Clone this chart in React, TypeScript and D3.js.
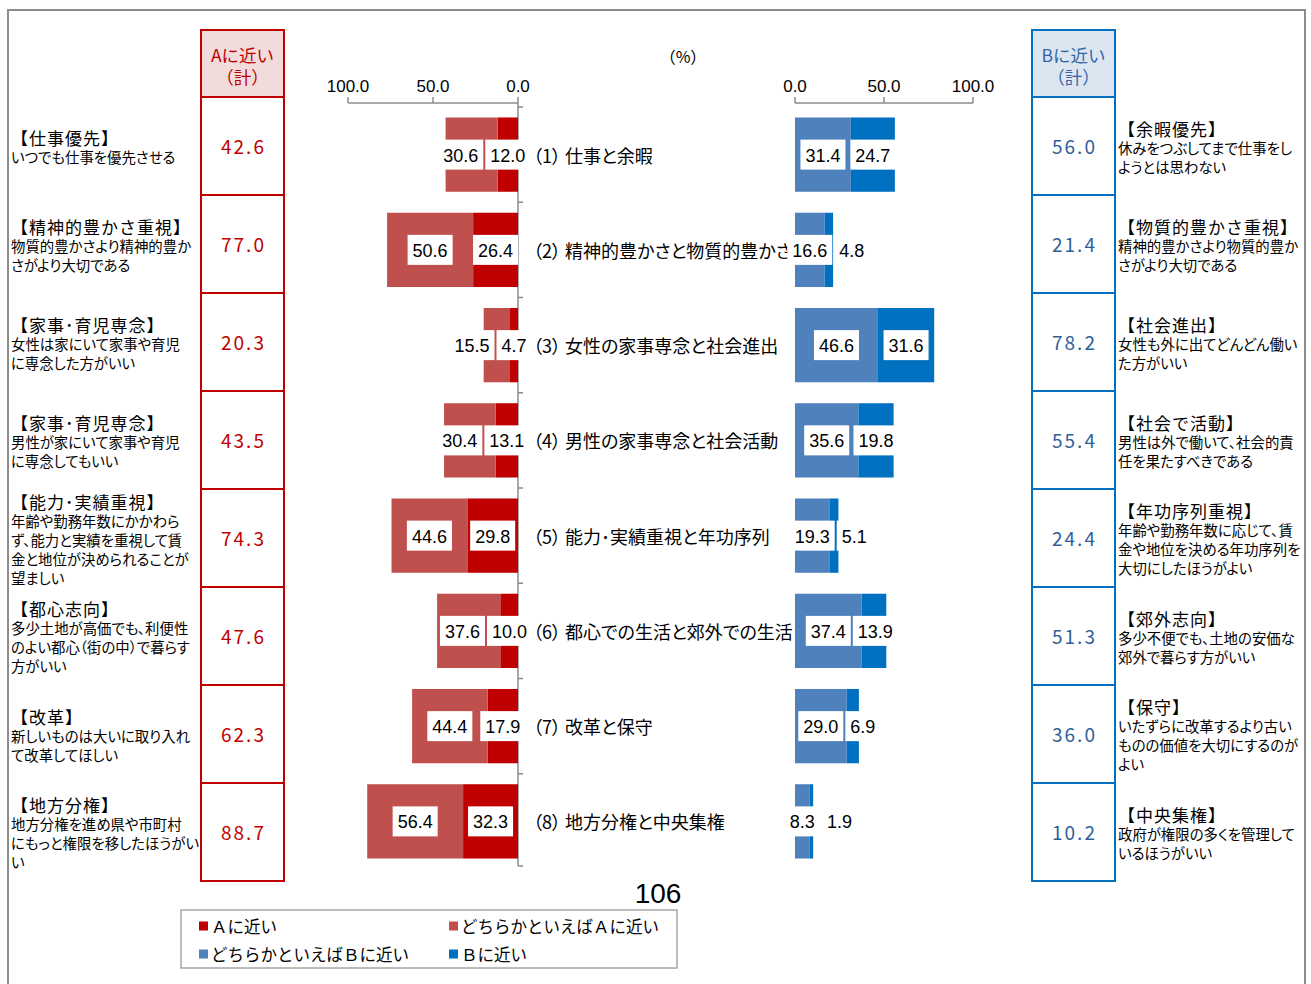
import React from "react";
import * as d3 from "d3";

// Survey items (middle labels): number part and topic part
const CATEGORY_NUMS = ["（1）", "（2）", "（3）", "（4）", "（5）", "（6）", "（7）", "（8）"];
const CATEGORY_TOPICS = [
  "仕事と余暇",
  "精神的豊かさと物質的豊かさ",
  "女性の家事専念と社会進出",
  "男性の家事専念と社会活動",
  "能力･実績重視と年功序列",
  "都心での生活と郊外での生活",
  "改革と保守",
  "地方分権と中央集権",
];
const CATEGORIES = CATEGORY_NUMS.map((n, i) => n + CATEGORY_TOPICS[i]);

// Percentages per answer
const A_CLOSE = [12.0, 26.4, 4.7, 13.1, 29.8, 10.0, 17.9, 32.3];
const A_SOMEWHAT = [30.6, 50.6, 15.5, 30.4, 44.6, 37.6, 44.4, 56.4];
const B_SOMEWHAT = [31.4, 16.6, 46.6, 35.6, 19.3, 37.4, 29.0, 8.3];
const B_CLOSE = [24.7, 4.8, 31.6, 19.8, 5.1, 13.9, 6.9, 1.9];

// Totals shown in the side tables
const A_TOTAL = [42.6, 77.0, 20.3, 43.5, 74.3, 47.6, 62.3, 88.7];
const B_TOTAL = [56.0, 21.4, 78.2, 55.4, 24.4, 51.3, 36.0, 10.2];

const AXIS_TICKS = [0, 50, 100];

const A_TITLES = [
  "【仕事優先】",
  "【精神的豊かさ重視】",
  "【家事･育児専念】",
  "【家事･育児専念】",
  "【能力･実績重視】",
  "【都心志向】",
  "【改革】",
  "【地方分権】",
];
const A_NOTES = [
  ["いつでも仕事を優先させる"],
  ["物質的豊かさより精神的豊か", "さがより大切である"],
  ["女性は家にいて家事や育児", "に専念した方がいい"],
  ["男性が家にいて家事や育児", "に専念してもいい"],
  ["年齢や勤務年数にかかわら", "ず、能力と実績を重視して賃", "金と地位が決められることが", "望ましい"],
  ["多少土地が高価でも、利便性", "のよい都心（街の中）で暮らす", "方がいい"],
  ["新しいものは大いに取り入れ", "て改革してほしい"],
  ["地方分権を進め県や市町村", "にもっと権限を移したほうがい", "い"],
];
const B_TITLES = [
  "【余暇優先】",
  "【物質的豊かさ重視】",
  "【社会進出】",
  "【社会で活動】",
  "【年功序列重視】",
  "【郊外志向】",
  "【保守】",
  "【中央集権】",
];
const B_NOTES = [
  ["休みをつぶしてまで仕事をし", "ようとは思わない"],
  ["精神的豊かさより物質的豊か", "さがより大切である"],
  ["女性も外に出てどんどん働い", "た方がいい"],
  ["男性は外で働いて、社会的責", "任を果たすべきである"],
  ["年齢や勤務年数に応じて、賃", "金や地位を決める年功序列を", "大切にしたほうがよい"],
  ["多少不便でも、土地の安価な", "郊外で暮らす方がいい"],
  ["いたずらに改革するより古い", "ものの価値を大切にするのが", "よい"],
  ["政府が権限の多くを管理して", "いるほうがいい"],
];

const LEGEND = [
  { label: "Ａに近い", color: "#C00000" },
  { label: "どちらかといえばＡに近い", color: "#C0504D" },
  { label: "どちらかといえばＢに近い", color: "#4F81BD" },
  { label: "Ｂに近い", color: "#0070C0" },
];

const JP = "'Noto Sans CJK JP', 'Noto Sans', sans-serif";
const NUM = "'Liberation Sans', Arial, sans-serif";
const LABEL_FS = 18;
const PALT = { fontFeatureSettings: '"palt"' };

const fmt = d3.format(".1f");

function textWidth(s: string) {
  let w = 0;
  for (const ch of s) w += ch === "." ? 0.278 : 0.556;
  return w * LABEL_FS;
}

type Seg = { key: string; v: number; x0: number; x1: number; color: string };
type Lab = { text: string; cx: number; w: number };

// Inner label sits on its segment; outer one is pushed away if the boxes collide
function placeLabels(segs: Seg[], dir: number): Lab[] {
  const gap = 2;
  const labs = segs.map((s) => {
    const text = fmt(s.v);
    return { text, cx: (s.x0 + s.x1) / 2, w: textWidth(text) + 10 };
  });
  const [a, b] = labs;
  if (dir < 0) b.cx = Math.min(b.cx, a.cx - a.w / 2 - gap - b.w / 2);
  else b.cx = Math.max(b.cx, a.cx + a.w / 2 + gap + b.w / 2);
  return labs;
}

export default function App() {
  const W = 1311;
  const H = 984;

  const rows = CATEGORIES.map((c, i) => ({
    cat: c,
    aClose: A_CLOSE[i],
    aSome: A_SOMEWHAT[i],
    bSome: B_SOMEWHAT[i],
    bClose: B_CLOSE[i],
  }));

  const xL = d3.scaleLinear().domain([0, 100]).range([518, 348]);
  const xR = d3.scaleLinear().domain([0, 100]).range([795, 973]);
  const y = d3
    .scaleBand<string>()
    .domain(CATEGORIES)
    .range([107, 869])
    .paddingInner(0.22)
    .paddingOuter(0.11);
  const rowY = d3.scaleBand<string>().domain(CATEGORIES).range([97, 881]);

  const leftStack = d3.stack<any>().keys(["aClose", "aSome"])(rows);
  const rightStack = d3.stack<any>().keys(["bSome", "bClose"])(rows);
  const colors: Record<string, string> = {
    aClose: "#C00000",
    aSome: "#C0504D",
    bSome: "#4F81BD",
    bClose: "#0070C0",
  };

  const axisY = 103;
  const tableTop = 30;
  const headerBottom = 97;
  const tableBottom = 881;

  const renderTable = (
    x0: number,
    x1: number,
    stroke: string,
    fill: string,
    headColor: string,
    valColor: string,
    head: string,
    totals: number[]
  ) => {
    const cx = (x0 + x1) / 2;
    return (
      <g>
        <rect x={x0} y={tableTop} width={x1 - x0} height={headerBottom - tableTop} fill={fill} />
        <rect
          x={x0}
          y={tableTop}
          width={x1 - x0}
          height={tableBottom - tableTop}
          fill="none"
          stroke={stroke}
          strokeWidth={2}
        />
        {CATEGORIES.map((c) => (
          <line key={c} x1={x0} x2={x1} y1={rowY(c)!} y2={rowY(c)!} stroke={stroke} strokeWidth={2} />
        ))}
        <text x={cx} y={54} textAnchor="middle" dominantBaseline="central" fontFamily={JP} fontSize={17.5} fill={headColor}>
          {head}
        </text>
        <text x={cx} y={76} textAnchor="middle" dominantBaseline="central" fontFamily={JP} fontSize={17.5} fill={headColor}>
          （計）
        </text>
        {CATEGORIES.map((c, i) => (
          <text
            key={c}
            x={cx + 1}
            y={rowY(c)! + rowY.bandwidth() / 2 - 0.5}
            textAnchor="middle"
            dominantBaseline="central"
            fontFamily={JP}
            fontSize={19}
            letterSpacing={2}
            fill={valColor}
          >
            {fmt(totals[i])}
          </text>
        ))}
      </g>
    );
  };

  const renderNotes = (x: number, titles: string[], notes: string[][]) =>
    CATEGORIES.map((c, i) => {
      const lines = [titles[i], ...notes[i]];
      const lh = 19;
      const mid = rowY(c)! + rowY.bandwidth() / 2 + 1;
      return (
        <g key={c}>
          {lines.map((ln, k) => (
            <text
              key={k}
              x={x}
              y={mid + (k - (lines.length - 1) / 2) * lh}
              dominantBaseline="central"
              fontFamily={JP}
              fontSize={k === 0 ? 17 : 14.4}
              letterSpacing={k === 0 ? 1 : 0}
              style={k === 0 ? undefined : PALT}
              fill="#000"
            >
              {ln}
            </text>
          ))}
        </g>
      );
    });

  const barSegs = (stack: any[], x: d3.ScaleLinear<number, number>, i: number): Seg[] =>
    stack.map((s) => ({
      key: s.key,
      v: s[i][1] - s[i][0],
      x0: x(s[i][0]),
      x1: x(s[i][1]),
      color: colors[s.key],
    }));

  return (
    <svg
      width={W}
      height={H}
      style={{ position: "absolute", left: 0, top: 0, display: "block", background: "#fff" }}
    >
      <rect x={0} y={0} width={W} height={H} fill="#fff" />
      {/* page frame */}
      <rect x={8} y={10} width={1297} height={1000} fill="none" stroke="#8c8c8c" strokeWidth={2} />

      {renderTable(201, 284, "#C00000", "#F2DCDB", "#C00000", "#C00000", "Aに近い", A_TOTAL)}
      {renderTable(1032, 1115, "#0070C0", "#DCE6F1", "#3366A8", "#2F5F98", "Bに近い", B_TOTAL)}

      {renderNotes(11, A_TITLES, A_NOTES)}
      {renderNotes(1118, B_TITLES, B_NOTES)}

      <text x={683} y={56} textAnchor="middle" dominantBaseline="central" fontFamily={JP} fontSize={16}>
        （%）
      </text>

      {/* top value axes */}
      {[xL, xR].map((x, k) => (
        <g key={k}>
          <line x1={x(0)} x2={x(100)} y1={axisY} y2={axisY} stroke="#8c8c8c" strokeWidth={1.5} />
          {AXIS_TICKS.map((t) => (
            <g key={t}>
              <line x1={x(t)} x2={x(t)} y1={axisY} y2={axisY - 6} stroke="#8c8c8c" strokeWidth={1.5} />
              <text
                x={x(t)}
                y={86}
                textAnchor="middle"
                dominantBaseline="central"
                fontFamily={NUM}
                fontSize={17}
                fill="#000"
              >
                {fmt(t)}
              </text>
            </g>
          ))}
        </g>
      ))}

      {/* category axis on the A side */}
      <line x1={xL(0)} x2={xL(0)} y1={axisY} y2={y.range()[1] - 3} stroke="#8c8c8c" strokeWidth={1.5} />
      {[...CATEGORIES.map((c) => y(c)! - (y.step() - y.bandwidth()) / 2), y.range()[1] - 3].map((yy, k) => (
        <line key={k} x1={xL(0)} x2={xL(0) + 5} y1={yy} y2={yy} stroke="#8c8c8c" strokeWidth={1.5} />
      ))}

      {/* item labels */}
      {CATEGORIES.map((c, i) => (
        <text
          key={c}
          x={533}
          y={y(c)! + y.bandwidth() / 2}
          dominantBaseline="central"
          fontFamily={JP}
          fontSize={18}
          style={PALT}
          fill="#000"
        >
          <tspan>{CATEGORY_NUMS[i]}</tspan>
          <tspan dx={4}>{CATEGORY_TOPICS[i]}</tspan>
        </text>
      ))}

      {/* stacked bars and their value labels */}
      {CATEGORIES.map((c, i) => {
        const top = y(c)!;
        const h = y.bandwidth();
        const midY = top + h / 2;
        const left = barSegs(leftStack, xL, i);
        const right = barSegs(rightStack, xR, i);
        const labs = [...placeLabels(left, -1), ...placeLabels(right, 1)];
        return (
          <g key={c}>
            {[...left, ...right].map((s) => (
              <rect
                key={s.key}
                x={Math.min(s.x0, s.x1)}
                y={top}
                width={Math.abs(s.x1 - s.x0)}
                height={h}
                fill={s.color}
              />
            ))}
            {labs.map((l, k) => (
              <g key={k}>
                <rect x={l.cx - l.w / 2} y={midY - 15} width={l.w} height={30} fill="#fff" />
                <text
                  x={l.cx}
                  y={midY + 1}
                  textAnchor="middle"
                  dominantBaseline="central"
                  fontFamily={NUM}
                  fontSize={LABEL_FS}
                  fill="#000"
                >
                  {l.text}
                </text>
              </g>
            ))}
          </g>
        );
      })}

      <text x={658} y={893} textAnchor="middle" dominantBaseline="central" fontFamily={NUM} fontSize={28}>
        106
      </text>

      {/* legend */}
      <rect x={181} y={910} width={496} height={58} fill="#fff" stroke="#a6a6a6" strokeWidth={1.5} />
      {LEGEND.map((l, k) => {
        const col = k % 2;
        const row = Math.floor(k / 2);
        const lx = col === 0 ? 199 : 449;
        const ly = 926 + row * 28;
        return (
          <g key={l.label}>
            <rect x={lx} y={ly - 4.5} width={9} height={9} fill={l.color} />
            <text x={lx + 12} y={ly} dominantBaseline="central" fontFamily={JP} fontSize={16.5} fill="#000">
              {l.label}
            </text>
          </g>
        );
      })}
    </svg>
  );
}
